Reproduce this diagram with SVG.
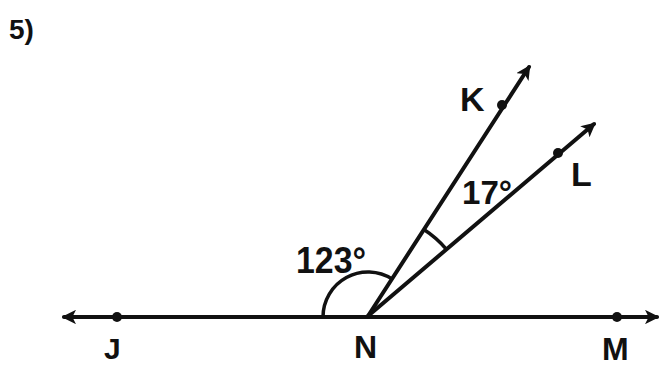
<svg xmlns="http://www.w3.org/2000/svg" width="661" height="367" viewBox="0 0 661 367">
<defs>
<style>
.ln{stroke:#111;stroke-width:4;fill:none;stroke-linecap:round}
.arc{stroke:#111;stroke-width:3.5;fill:none}
.pt{fill:#111}
.lbl{font-family:"Liberation Sans",Arial,sans-serif;font-weight:bold;fill:#111}
</style>
<marker id="ah" viewBox="0 0 12 12" refX="10" refY="6" markerWidth="3.6" markerHeight="3.6" orient="auto-start-reverse" markerUnits="strokeWidth">
<path d="M0,0 L12,6 L0,12 L3,6 Z" fill="#111"/>
</marker>
</defs>
<rect width="661" height="367" fill="#fff"/>
<text class="lbl" x="9" y="39" font-size="28">5)</text>
<g id="connectors">
<line class="ln" x1="64" y1="317" x2="657" y2="317" marker-start="url(#ah)" marker-end="url(#ah)"/>
<line class="ln" x1="368" y1="316" x2="529" y2="67" marker-end="url(#ah)"/>
<line class="ln" x1="368" y1="316" x2="594" y2="124" marker-end="url(#ah)"/>
<path class="arc" d="M323,317 A45,45 0 0 1 392.3,279.1"/>
<path class="arc" d="M423.5,229.2 A103,103 0 0 1 446.5,249.3"/>
</g>
<g id="J"><circle class="pt" cx="117" cy="317" r="5"/><text class="lbl" x="104" y="359" font-size="30">J</text></g>
<g id="N"><text class="lbl" x="354" y="358" font-size="32">N</text></g>
<g id="M"><circle class="pt" cx="617" cy="317" r="5"/><text class="lbl" x="602" y="360" font-size="32">M</text></g>
<g id="K"><circle class="pt" cx="502" cy="105" r="5"/><text class="lbl" x="460" y="111" font-size="34">K</text></g>
<g id="L"><circle class="pt" cx="558" cy="153" r="5"/><text class="lbl" x="571" y="186" font-size="34">L</text></g>
<g id="angle123"><text class="lbl" x="296" y="273" font-size="36" textLength="70" lengthAdjust="spacingAndGlyphs">123°</text></g>
<g id="angle17"><text class="lbl" x="462" y="204" font-size="34" textLength="50" lengthAdjust="spacingAndGlyphs">17°</text></g>
</svg>
